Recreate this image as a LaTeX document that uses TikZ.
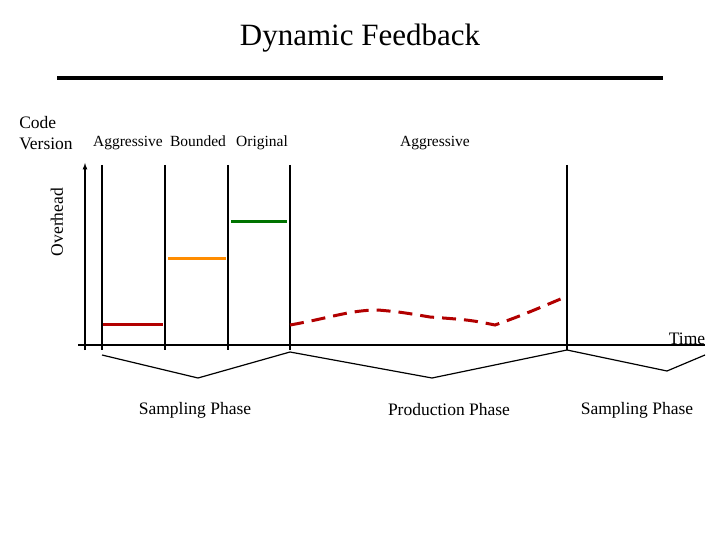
\documentclass[tikz,border=0pt]{standalone}
\usepackage{fontspec}
\setmainfont{Liberation Serif}
\begin{document}
\begin{tikzpicture}[x=1pt,y=-1pt,
  lbl/.style={inner sep=0pt,anchor=base,font=\fontsize{15.5}{18}\selectfont},
  big/.style={inner sep=0pt,font=\fontsize{17.5}{21}\selectfont},
  vl/.style={line width=1.2pt},
  bar/.style={line width=3pt}]
\useasboundingbox (0,0) rectangle (720,540);
\node[font=\fontsize{31}{36}\selectfont] (title) at (360,38) {Dynamic Feedback};
\coordinate (t1) at (57,78); \coordinate (t2) at (663,78);
\draw[line width=4pt] (t1) -- (t2);
\node[big,align=left] (cv) at (46,133) {Code\\Version};
\node[big,rotate=90] (oh) at (57,222) {Overhead};
\node[lbl] (l1) at (128,147) {Aggressive};
\node[lbl] (l2) at (198,147) {Bounded};
\node[lbl] (l3) at (262,147) {Original};
\node[lbl] (l4) at (435,147) {Aggressive};
\coordinate (y0) at (85,350); \coordinate (y1) at (85,163);
\draw[vl,-latex] (y0) -- (y1);
\coordinate (x0) at (78,345); \coordinate (x1) at (705,345);
\draw[vl] (x0) -- (x1);
\node[big] (time) at (687,339) {Time};
\foreach \x in {102,165,228,290,567} \draw[vl] (\x,165) -- (\x,350);
\draw[bar,red!70!black] (103,324) -- (163,324);
\draw[bar,orange!90!yellow] (168,258) -- (226,258);
\draw[bar,green!45!black] (231,222) -- (287,222);
\draw[bar,red!70!black,dash pattern=on 14pt off 8pt] (290,325) .. controls (330,318) and (350,310) .. (378,310) .. controls (400,312) .. (430,317) .. controls (470,320) .. (495,325) .. controls (520,316) .. (563,298);
\draw[vl] (102,355) -- (198,378) -- (290,352) -- (432,378) -- (567,350) -- (667,371) -- (705,355);
\node[big] (s1) at (195,410) {Sampling Phase};
\node[big] (p1) at (449,410) {Production Phase};
\node[big] (s2) at (637,410) {Sampling Phase};
\end{tikzpicture}
\end{document}
